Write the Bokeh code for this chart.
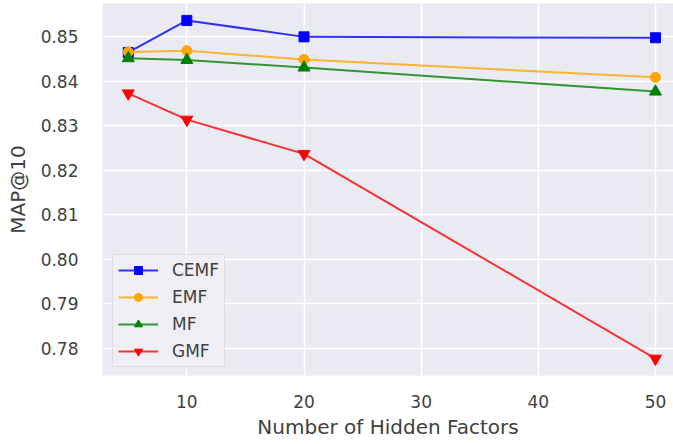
from bokeh.plotting import figure
from bokeh.models import Range1d, FixedTicker, Legend, LegendItem
from bokeh.embed import file_html
from bokeh.resources import INLINE

# Hidden-factor sweep: MAP@10 for each model
factors = [5, 10, 20, 50]
cemf = [0.8465, 0.8537, 0.8500, 0.8498]
emf = [0.8466, 0.8469, 0.8449, 0.8409]
mf = [0.8452, 0.8448, 0.8431, 0.8377]
gmf = [0.8373, 0.8314, 0.8237, 0.7777]

series_names = ["CEMF", "EMF", "MF", "GMF"]
x_ticks = [10, 20, 30, 40, 50]
y_ticks = [0.78, 0.79, 0.80, 0.81, 0.82, 0.83, 0.84, 0.85]

FONT = "DejaVu Sans"
TEXT = "#404040"

p = figure(width=673, height=444, output_backend="svg", toolbar_location=None,
           x_range=Range1d(2.8, 51.54), y_range=Range1d(0.7739, 0.8575),
           min_border_left=102, min_border_right=0, min_border_top=3,
           min_border_bottom=69)

p.background_fill_color = "#EAEAF2"
p.border_fill_color = "white"
p.outline_line_color = None

p.xgrid.grid_line_color = "white"
p.ygrid.grid_line_color = "white"
p.xgrid.grid_line_width = 1.5
p.ygrid.grid_line_width = 1.5

p.xaxis.ticker = FixedTicker(ticks=x_ticks)
p.yaxis.ticker = FixedTicker(ticks=y_ticks)
p.yaxis.major_label_overrides = {t: f"{t:.2f}" for t in y_ticks}

for ax in (p.xaxis[0], p.yaxis[0]):
    ax.axis_line_color = None
    ax.major_tick_line_color = None
    ax.minor_tick_line_color = None
    ax.major_label_text_font = FONT
    ax.major_label_text_font_size = "17px"
    ax.major_label_text_color = TEXT
    ax.axis_label_text_font = FONT
    ax.axis_label_text_font_size = "20px"
    ax.axis_label_text_font_style = "normal"
    ax.axis_label_text_color = TEXT

p.xaxis.axis_label = "Number of Hidden Factors"
p.yaxis.axis_label = "MAP@10"
p.xaxis.major_label_standoff = 13
p.yaxis.major_label_standoff = 18
p.xaxis.axis_label_standoff = 4
p.yaxis.axis_label_standoff = 8

styles = [
    (cemf, "blue", "square", 10),
    (emf, "orange", "circle", 10),
    (mf, "green", "triangle", 12),
    (gmf, "red", "inverted_triangle", 12),
]

items = []
for name, (vals, color, marker, size) in zip(series_names, styles):
    ln = p.line(factors, vals, line_color=color, line_width=2, line_alpha=0.8)
    sc = p.scatter(factors, vals, marker=marker, size=size,
                   fill_color=color, line_color=color)
    items.append(LegendItem(label=name, renderers=[ln, sc]))

legend = Legend(items=items, location=(10, 8))
legend.label_text_font = FONT
legend.label_text_font_size = "17px"
legend.label_text_color = TEXT
legend.glyph_width = 40
legend.glyph_height = 20
legend.label_height = 20
legend.spacing = 7
legend.padding = 5
legend.margin = 0
legend.label_standoff = 14
legend.background_fill_color = "#EEEEF4"
legend.background_fill_alpha = 0.9
legend.border_line_color = "#CCCCCC"
legend.border_line_width = 1
p.add_layout(legend, "center")

open("out.html", "w").write(file_html(p, INLINE))
